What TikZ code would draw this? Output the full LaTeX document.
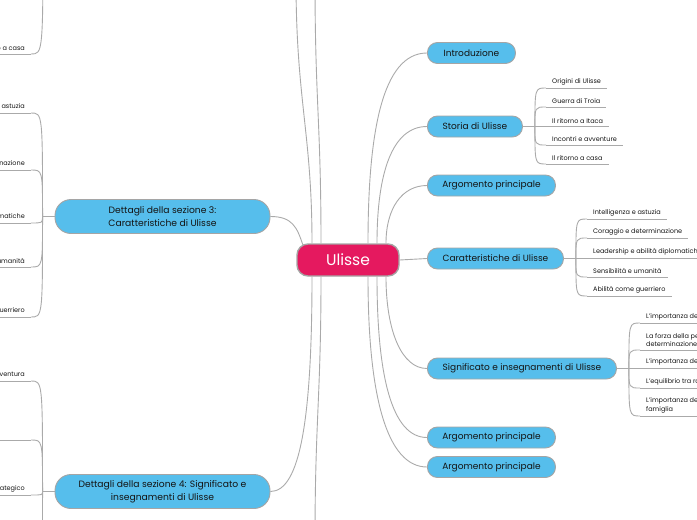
\documentclass[tikz,border=0pt]{standalone}
\usepackage{fontspec}
\setmainfont{Poppins}
\definecolor{rootc}{RGB}{229,25,95}
\definecolor{topicc}{RGB}{86,190,236}
\definecolor{bordc}{RGB}{165,165,165}
\definecolor{linec}{RGB}{170,170,170}
\definecolor{txtc}{RGB}{20,20,20}
\tikzset{
 conn/.style={draw=linec, line width=0.9pt},
 rootnode/.style={rectangle, rounded corners=11pt, fill=rootc, draw=bordc, line width=1.4pt, minimum width=102pt, minimum height=32pt, text=white, font=\fontsize{15.5}{18}\selectfont, inner sep=0pt},
 topic/.style={rectangle, rounded corners=10pt, fill=topicc, draw=bordc, line width=0.9pt, minimum height=21pt, inner sep=0pt, text=txtc, font=\fontsize{9}{11}\selectfont, anchor=west},
 bigtopic/.style={rectangle, rounded corners=16pt, fill=topicc, draw=bordc, line width=0.9pt, minimum width=215pt, minimum height=34pt, inner sep=0pt, text=txtc, align=center, font=\fontsize{9.2}{12.8}\selectfont},
 rleaf/.style={anchor=south west, inner xsep=6pt, inner ysep=3pt, text=txtc, font=\fontsize{6.5}{8.7}\selectfont, align=left},
 lleaf/.style={anchor=south east, inner xsep=6pt, inner ysep=3pt, text=txtc, font=\fontsize{6.5}{8.7}\selectfont, align=right},
}
\begin{document}
\begin{tikzpicture}[x=1pt,y=-1pt]
\useasboundingbox (0,0) rectangle (697,520);
% off-canvas ends
\coordinate (top1) at (315,-20);
\coordinate (top2) at (296,-20);
\coordinate (bot5) at (315,540);
\coordinate (b2) at (43,-80);
\coordinate (lb4) at (31,570);
% nodes
\node[rootnode] (root) at (348,260) {Ulisse};
\node[topic, minimum width=88pt] (intro) at (427,53) {Introduzione};
\node[topic, minimum width=95pt] (storia) at (427,126.5) {Storia di Ulisse};
\node[topic, minimum width=128pt] (arg1) at (427,185.5) {Argomento principale};
\node[topic, minimum width=136pt] (car) at (427,258.5) {Caratteristiche di Ulisse};
\node[topic, minimum width=189pt] (sig) at (427,368.5) {Significato e insegnamenti di Ulisse};
\node[topic, minimum width=128pt] (arg2) at (427,437.5) {Argomento principale};
\node[topic, minimum width=128pt] (arg3) at (427,467) {Argomento principale};
\node[bigtopic] (sec3) at (162.5,216.5) {Dettagli della sezione 3:\\Caratteristiche di Ulisse};
\node[bigtopic] (sec4) at (162.5,491.5) {Dettagli della sezione 4: Significato e\\insegnamenti di Ulisse};
% leaves of Storia
\node[rleaf] (st1) at (546,88) {Origini di Ulisse};
\node[rleaf] (st2) at (546,107) {Guerra di Troia};
\node[rleaf] (st3) at (546,126.5) {Il ritorno a Itaca};
\node[rleaf] (st4) at (546,145) {Incontri e avventure};
\node[rleaf] (st5) at (546,164) {Il ritorno a casa};
% leaves of Caratteristiche
\node[rleaf] (ca1) at (587,219) {Intelligenza e astuzia};
\node[rleaf] (ca2) at (587,238) {Coraggio e determinazione};
\node[rleaf] (ca3) at (587,258.5) {Leadership e abilità diplomatiche};
\node[rleaf] (ca4) at (587,277) {Sensibilità e umanità};
\node[rleaf] (ca5) at (587,296) {Abilità come guerriero};
% leaves of Significato
\node[rleaf] (si1) at (640,323) {L’importanza dell’astuzia};
\node[rleaf] (si2) at (640,350) {La forza della perseveranza e\\determinazione};
\node[rleaf] (si3) at (640,368.5) {L’importanza della lealtà};
\node[rleaf] (si4) at (640,388) {L’equilibrio tra ragione e emozione};
\node[rleaf] (si5) at (640,416) {L’importanza della casa e della\\famiglia};
% left leaves
\node[lleaf] (l2) at (31,54) {Il ritorno a casa};
\node[lleaf] (la1) at (31,113) {Intelligenza e astuzia};
\node[lleaf] (la2) at (31,170) {Coraggio e determinazione};
\node[lleaf] (la3) at (31,223) {Leadership e abilità diplomatiche};
\node[lleaf] (la4) at (31,267) {Sensibilità e umanità};
\node[lleaf] (la5) at (31,317) {Abilità come guerriero};
\node[lleaf] (lb1) at (31,381) {Lo spirito d’avventura};
\node[lleaf, minimum width=40pt] (lb2) at (31,440) {};
\node[lleaf] (lb3) at (31,495) {Il pensiero strategico};
% underlines
\foreach \c in {st1,st2,st3,st4,st5,ca1,ca2,ca3,ca4,ca5,si1,si2,si3,si4,si5,l2,la1,la2,la3,la4,la5,lb1,lb2,lb3}
  \draw[conn] (\c.south west) -- (\c.south east);
% root connectors
\draw[conn] ([xshift=20pt]root.north) .. controls +(0,-110) and +(-45,0) .. (intro.west);
\draw[conn] ([xshift=29pt]root.north) .. controls +(0,-70) and +(-35,0) .. (storia.west);
\draw[conn] ([xshift=38pt]root.north) .. controls +(0,-35) and +(-25,0) .. (arg1.west);
\draw[conn] (root.east) .. controls +(14,0) and +(-14,0) .. (car.west);
\draw[conn] ([xshift=38pt]root.south) .. controls +(0,55) and +(-25,0) .. (sig.west);
\draw[conn] ([xshift=29pt]root.south) .. controls +(0,100) and +(-35,0) .. (arg2.west);
\draw[conn] ([xshift=20pt]root.south) .. controls +(0,120) and +(-40,0) .. (arg3.west);
\draw[conn] ([xshift=-45pt,yshift=-2pt]root.north) .. controls +(-6,-18) and +(22,0) .. (sec3.east);
\draw[conn] ([xshift=-36pt]root.south) .. controls +(0,140) and +(30,0) .. (sec4.east);
\draw[conn] ([xshift=-36pt]root.north) .. controls +(0,-110) and +(0,120) .. (top2);
\draw[conn] ([xshift=-27pt]root.north) .. controls +(0,-120) and +(0,120) .. (top1);
\draw[conn] ([xshift=-27pt]root.south) .. controls +(0,120) and +(0,-120) .. (bot5);
% branches
\draw[conn] (storia.east) -- ++(12,0) coordinate (bst);
\foreach \c in {st1,st2,st3,st4,st5}
  \draw[conn] (bst) .. controls (bst |- \c.south west) and (bst |- \c.south west) .. (\c.south west);
\draw[conn] (car.east) -- ++(12,0) coordinate (bca);
\foreach \c in {ca1,ca2,ca3,ca4,ca5}
  \draw[conn] (bca) .. controls (bca |- \c.south west) and (bca |- \c.south west) .. (\c.south west);
\draw[conn] (sig.east) -- ++(12,0) coordinate (bsi);
\foreach \c in {si1,si2,si3,si4,si5}
  \draw[conn] (bsi) .. controls (bsi |- \c.south west) and (bsi |- \c.south west) .. (\c.south west);
\draw[conn] (sec3.west) -- ++(-12,0) coordinate (bs3);
\foreach \c in {la1,la2,la3,la4,la5}
  \draw[conn] (bs3) .. controls (bs3 |- \c.south east) and (bs3 |- \c.south east) .. (\c.south east);
\draw[conn] (sec4.west) -- ++(-12,0) coordinate (bs4);
\foreach \c in {lb1,lb2,lb3}
  \draw[conn] (bs4) .. controls (bs4 |- \c.south east) and (bs4 |- \c.south east) .. (\c.south east);
\draw[conn] (bs4) .. controls (bs4 |- lb4) and (bs4 |- lb4) .. (lb4);
\draw[conn] (b2) .. controls (b2 |- l2.south east) and (b2 |- l2.south east) .. (l2.south east);
\end{tikzpicture}
\end{document}
